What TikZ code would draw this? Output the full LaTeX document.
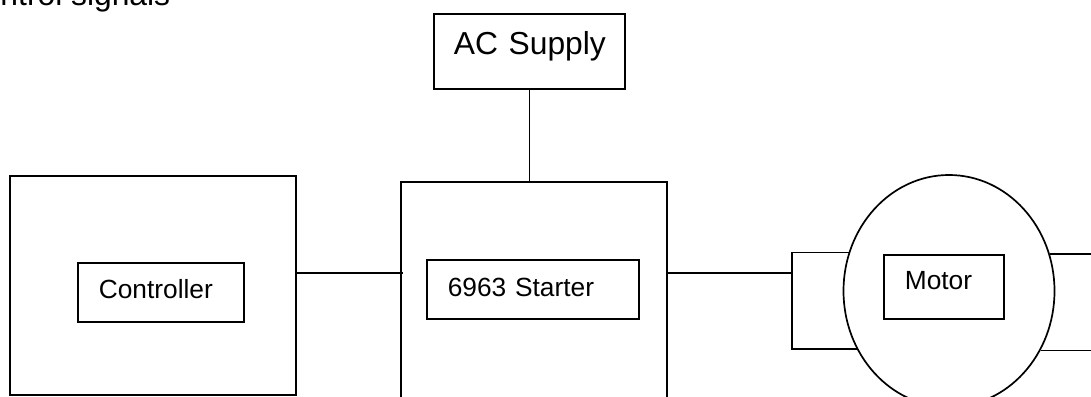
\documentclass[tikz,border=0pt]{standalone}
\usepackage{fontspec}
\setmainfont{Liberation Sans}
\usetikzlibrary{shapes.geometric, positioning}
\tikzset{
  every picture/.style={line width=1.7pt},
  casing/.style={draw, inner sep=0pt},
  block/.style={draw, inner xsep=21pt, inner ysep=0pt, align=left, anchor=base west,
    font=\fontsize{26.3}{30}\selectfont},
  bigtext/.style={font=\fontsize{31.8}{36}\selectfont},
}

\begin{document}
\begin{tikzpicture}[x=1pt, y=-1pt]
  \useasboundingbox (0,0) rectangle (1091,396);
  \clip (0,0) rectangle (1091,396);
  % outer casings
  \node[casing, minimum width=286pt, minimum height=219pt] (ctrlcase) at (153,285.5) {};
  \node[casing, minimum width=266pt, minimum height=260pt, anchor=north west] (startcase) at (400,181) {};
  \node[casing, ellipse, minimum width=211pt, minimum height=232pt] (motorcase) at (949,291) {};
  % labelled blocks
  \node[block, text width=124pt, text height=35pt, text depth=24pt] (ctrl) at (77,298) {\mbox{Controller}};
  \node[block, text width=170pt, text height=36pt, text depth=23pt] (starter) at (426,296) {\mbox{6963 Starter}};
  \node[block, text width=78pt, text height=34pt, text depth=30pt] (motor) at (883,289) {\mbox{Motor}};
  \node[block, bigtext, inner xsep=20pt, text width=151pt, text height=41pt, text depth=34pt] (supply) at (433,55) {\mbox{AC Supply}};
  \node[bigtext, anchor=base west, inner sep=0pt] (signals) at (-41,6) {Control signals};
  % wiring
  \coordinate (lbrk) at (792,273);
  \coordinate (rbrk) at (1100,273);
  \draw (ctrlcase.east |- lbrk) -- ([xshift=3pt]startcase.west |- lbrk);
  \draw (supply.south) -- (supply.south |- startcase.north);
  \draw (startcase.east |- lbrk) -- (lbrk);
  \draw (motorcase.159) -- (motorcase.159 -| lbrk) -- (motorcase.212.4 -| lbrk) -- (motorcase.212.4);
  \draw (motorcase.20.9) -- (motorcase.20.9 -| rbrk);
  \draw (motorcase.327.6) -- (motorcase.327.6 -| rbrk);
\end{tikzpicture}
\end{document}
